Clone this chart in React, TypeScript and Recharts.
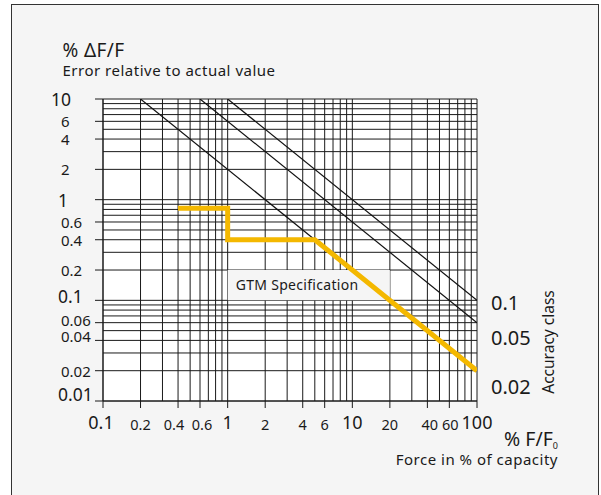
import { LineChart, Line, XAxis, YAxis, CartesianGrid, ReferenceArea } from "recharts";

// log grid, one line per 1..9 step of every decade
const xGrid = [
  0.1, 0.2, 0.3, 0.4, 0.5, 0.6, 0.7, 0.8, 0.9,
  1, 2, 3, 4, 5, 6, 7, 8, 9,
  10, 20, 30, 40, 50, 60, 70, 80, 90, 100,
];
const yGrid = [
  0.01, 0.02, 0.03, 0.04, 0.05, 0.06, 0.07, 0.08, 0.09,
  0.1, 0.2, 0.3, 0.4, 0.5, 0.6, 0.7, 0.8, 0.9,
  1, 2, 3, 4, 5, 6, 7, 8, 9, 10,
];
const xTicks = [0.1, 0.2, 0.4, 0.6, 1, 2, 4, 6, 10, 20, 40, 60, 100];
const yTicks = [0.01, 0.02, 0.04, 0.06, 0.1, 0.2, 0.4, 0.6, 1, 2, 4, 6, 10];
const decades = [0.01, 0.1, 1, 10, 100];

// GTM specification (yellow)
const gtmX = [0.4, 1, 1, 5, 100];
const gtmY = [0.82, 0.82, 0.4, 0.4, 0.02];

// accuracy class lines
const class1X = [0.2, 100];
const class1Y = [10, 0.02];
const class2X = [0.6, 100];
const class2Y = [10, 0.06];
const class3X = [1, 100];
const class3Y = [10, 0.1];

const accuracyLabels = ["0.1", "0.05", "0.02"];

const FONT = "'Noto Sans', 'Open Sans', sans-serif";
const INK = "#1a1a1a";

const toPoints = (xs: number[], ys: number[]) => xs.map((x, i) => ({ x, y: ys[i] }));

const yShift: Record<string, number> = { "0.01": -7, "0.04": -4, "0.06": -3, "0.1": -4 };
const xShift: Record<string, number> = { "0.1": -2, "0.4": -4, "0.6": 2, "40": 2.5, "60": 1 };

function YTick(props: any) {
  const { y, payload } = props;
  const v = payload.value as number;
  const big = decades.includes(v);
  const label = String(v);
  return (
    <text
      x={v === 10 ? 71 : big ? 58 : 61}
      y={y + (yShift[label] ?? 0)}
      textAnchor={v === 10 ? "end" : "start"}
      dominantBaseline="central"
      fontSize={big ? 17.5 : 15}
      fontFamily={FONT}
      fill={INK}
    >
      {label}
    </text>
  );
}

function XTick(props: any) {
  const { x, payload } = props;
  const v = payload.value as number;
  const big = decades.includes(v);
  const label = String(v);
  return (
    <text
      x={x + (xShift[label] ?? 0)}
      y={big ? 422 : 424}
      textAnchor="middle"
      dominantBaseline="central"
      fontSize={big ? 18 : 14.5}
      fontFamily={FONT}
      fill={INK}
    >
      {label}
    </text>
  );
}

export default function App() {
  return (
    <div style={{ position: "absolute", left: 0, top: 0, width: 601, height: 495, background: "#fff", overflow: "hidden" }}>
      <div
        style={{
          position: "absolute",
          left: 11,
          top: 4,
          width: 588,
          height: 520,
          boxSizing: "border-box",
          border: "1.5px solid #333",
          background: "#f5f5f5",
        }}
      />
      <div style={{ position: "absolute", left: 0, top: 0 }}>
        <LineChart width={601} height={495} margin={{ top: 99, right: 124, bottom: 64, left: 0 }}>
          <CartesianGrid
            stroke="#1a1a1a"
            strokeWidth={1}
            fill="#fff"
            horizontalValues={yGrid}
            verticalValues={xGrid}
          />
          <XAxis
            type="number"
            dataKey="x"
            scale="log"
            domain={[0.1, 100]}
            allowDataOverflow
            ticks={xTicks}
            interval={0}
            height={30}
            tickSize={7}
            tickLine={{ stroke: INK }}
            axisLine={{ stroke: INK }}
            tick={<XTick />}
          />
          <YAxis
            type="number"
            dataKey="y"
            scale="log"
            domain={[0.01, 10]}
            allowDataOverflow
            ticks={yTicks}
            interval={0}
            width={103}
            tickSize={8}
            tickLine={{ stroke: INK }}
            axisLine={{ stroke: INK }}
            tick={<YTick />}
          />
          <ReferenceArea
            x1={1}
            x2={20}
            y1={0.1}
            y2={0.2}
            fill="#f5f5f5"
            fillOpacity={1}
            stroke="none"
            label={{
              value: "GTM Specification",
              position: "insideLeft",
              offset: 8,
              fill: INK,
              fontSize: 14,
              letterSpacing: 0.3,
              fontFamily: FONT,
            }}
          />
          <Line data={toPoints(class1X, class1Y)} dataKey="y" stroke="#111" strokeWidth={1.2} dot={false} isAnimationActive={false} />
          <Line data={toPoints(class2X, class2Y)} dataKey="y" stroke="#111" strokeWidth={1.2} dot={false} isAnimationActive={false} />
          <Line data={toPoints(class3X, class3Y)} dataKey="y" stroke="#111" strokeWidth={1.2} dot={false} isAnimationActive={false} />
          <Line
            data={toPoints(gtmX, gtmY)}
            dataKey="y"
            stroke="#f4b800"
            strokeWidth={5}
            strokeLinejoin="miter"
            dot={false}
            isAnimationActive={false}
          />
        </LineChart>
      </div>
      <svg width={601} height={495} style={{ position: "absolute", left: 0, top: 0, pointerEvents: "none" }} fontFamily={FONT} fill={INK}>
        <text x={62.5} y={56.5} fontSize={19} letterSpacing={0.4}>% ΔF/F</text>
        <text x={62.5} y={75.5} fontSize={15} letterSpacing={0.5}>Error relative to actual value</text>
        <text x={558} y={446} fontSize={19.5} textAnchor="end">
          % F/F<tspan fontSize={9} dy={3}>0</tspan>
        </text>
        <text x={558} y={465} fontSize={15} letterSpacing={0.5} textAnchor="end">Force in % of capacity</text>
        {accuracyLabels.map((t, i) => (
          <text key={t} x={491} y={[309.5, 344.5, 393.5][i]} fontSize={20}>{t}</text>
        ))}
        <text
          x={548}
          y={342}
          fontSize={15.5}
          textAnchor="middle"
          dominantBaseline="central"
          transform="rotate(-90 548 342)"
        >
          Accuracy class
        </text>
      </svg>
    </div>
  );
}
